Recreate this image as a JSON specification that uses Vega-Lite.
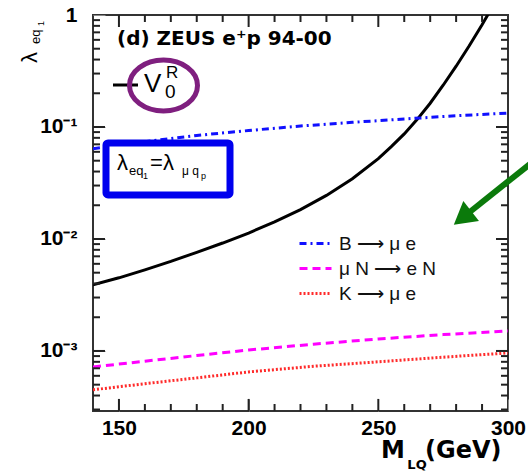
{
  "$schema": "https://vega.github.io/schema/vega-lite/v6.json",
  "width": 415,
  "height": 396,
  "autosize": "none",
  "padding": {"left": 93, "top": 15, "right": 20, "bottom": 62},
  "background": "white",
  "config": {
    "view": {"stroke": "#333", "strokeWidth": 2},
    "axis": {"grid": false, "domain": false, "title": null, "labelOverlap": false, "labelFlush": false, "labelBound": false}
  },
  "datasets": {
    "curves": [
      {"M": 140, "lam": 0.0039, "s": "V0R"},
      {"M": 150, "lam": 0.0045, "s": "V0R"},
      {"M": 160, "lam": 0.0053, "s": "V0R"},
      {"M": 170, "lam": 0.0063, "s": "V0R"},
      {"M": 180, "lam": 0.0076, "s": "V0R"},
      {"M": 190, "lam": 0.0092, "s": "V0R"},
      {"M": 200, "lam": 0.0113, "s": "V0R"},
      {"M": 210, "lam": 0.0142, "s": "V0R"},
      {"M": 220, "lam": 0.0183, "s": "V0R"},
      {"M": 230, "lam": 0.0245, "s": "V0R"},
      {"M": 240, "lam": 0.0345, "s": "V0R"},
      {"M": 250, "lam": 0.0522, "s": "V0R"},
      {"M": 255, "lam": 0.0667, "s": "V0R"},
      {"M": 260, "lam": 0.0867, "s": "V0R"},
      {"M": 265, "lam": 0.117, "s": "V0R"},
      {"M": 270, "lam": 0.163, "s": "V0R"},
      {"M": 275, "lam": 0.236, "s": "V0R"},
      {"M": 280, "lam": 0.349, "s": "V0R"},
      {"M": 285, "lam": 0.528, "s": "V0R"},
      {"M": 290, "lam": 0.818, "s": "V0R"},
      {"M": 293, "lam": 1.08, "s": "V0R"},
      {"M": 140, "lam": 0.064, "s": "B ⟶ μ e"},
      {"M": 160, "lam": 0.074, "s": "B ⟶ μ e"},
      {"M": 180, "lam": 0.084, "s": "B ⟶ μ e"},
      {"M": 200, "lam": 0.093, "s": "B ⟶ μ e"},
      {"M": 220, "lam": 0.102, "s": "B ⟶ μ e"},
      {"M": 240, "lam": 0.110, "s": "B ⟶ μ e"},
      {"M": 260, "lam": 0.118, "s": "B ⟶ μ e"},
      {"M": 280, "lam": 0.126, "s": "B ⟶ μ e"},
      {"M": 300, "lam": 0.133, "s": "B ⟶ μ e"},
      {"M": 140, "lam": 0.00072, "s": "μ N ⟶ e N"},
      {"M": 160, "lam": 0.00081, "s": "μ N ⟶ e N"},
      {"M": 180, "lam": 0.00091, "s": "μ N ⟶ e N"},
      {"M": 200, "lam": 0.00102, "s": "μ N ⟶ e N"},
      {"M": 225, "lam": 0.00115, "s": "μ N ⟶ e N"},
      {"M": 250, "lam": 0.00128, "s": "μ N ⟶ e N"},
      {"M": 275, "lam": 0.0014, "s": "μ N ⟶ e N"},
      {"M": 300, "lam": 0.00151, "s": "μ N ⟶ e N"},
      {"M": 140, "lam": 0.00045, "s": "K ⟶ μ e"},
      {"M": 160, "lam": 0.00051, "s": "K ⟶ μ e"},
      {"M": 180, "lam": 0.000575, "s": "K ⟶ μ e"},
      {"M": 200, "lam": 0.00065, "s": "K ⟶ μ e"},
      {"M": 225, "lam": 0.00073, "s": "K ⟶ μ e"},
      {"M": 250, "lam": 0.0008, "s": "K ⟶ μ e"},
      {"M": 275, "lam": 0.00088, "s": "K ⟶ μ e"},
      {"M": 300, "lam": 0.00096, "s": "K ⟶ μ e"}
    ],
    "xticks": [
      {"v": 150, "k": "major"}, {"v": 160, "k": "minor"}, {"v": 170, "k": "minor"}, {"v": 180, "k": "minor"},
      {"v": 190, "k": "minor"}, {"v": 200, "k": "major"}, {"v": 210, "k": "minor"}, {"v": 220, "k": "minor"},
      {"v": 230, "k": "minor"}, {"v": 240, "k": "minor"}, {"v": 250, "k": "major"}, {"v": 260, "k": "minor"},
      {"v": 270, "k": "minor"}, {"v": 280, "k": "minor"}, {"v": 290, "k": "minor"}
    ],
    "yticks": [
      {"v": 0.0003, "k": "minor"}, {"v": 0.0004, "k": "minor"}, {"v": 0.0005, "k": "minor"}, {"v": 0.0006, "k": "minor"},
      {"v": 0.0007, "k": "minor"}, {"v": 0.0008, "k": "minor"}, {"v": 0.0009, "k": "minor"}, {"v": 0.001, "k": "major"},
      {"v": 0.002, "k": "minor"}, {"v": 0.003, "k": "minor"}, {"v": 0.004, "k": "minor"}, {"v": 0.005, "k": "minor"},
      {"v": 0.006, "k": "minor"}, {"v": 0.007, "k": "minor"}, {"v": 0.008, "k": "minor"}, {"v": 0.009, "k": "minor"},
      {"v": 0.01, "k": "major"}, {"v": 0.02, "k": "minor"}, {"v": 0.03, "k": "minor"}, {"v": 0.04, "k": "minor"},
      {"v": 0.05, "k": "minor"}, {"v": 0.06, "k": "minor"}, {"v": 0.07, "k": "minor"}, {"v": 0.08, "k": "minor"},
      {"v": 0.09, "k": "minor"}, {"v": 0.1, "k": "major"}, {"v": 0.2, "k": "minor"}, {"v": 0.3, "k": "minor"},
      {"v": 0.4, "k": "minor"}, {"v": 0.5, "k": "minor"}, {"v": 0.6, "k": "minor"}, {"v": 0.7, "k": "minor"},
      {"v": 0.8, "k": "minor"}, {"v": 0.9, "k": "minor"}
    ]
  },
  "layer": [
    {
      "data": {"name": "curves"},
      "transform": [{"filter": "datum.s == 'V0R'"}],
      "mark": {"type": "line", "color": "black", "strokeWidth": 3, "clip": true},
      "encoding": {
        "x": {"field": "M", "type": "quantitative",
          "scale": {"domain": [140, 300], "nice": false, "zero": false},
          "axis": {"orient": "bottom", "values": [150, 200, 250, 300], "ticks": true, "tickSize": 12, "offset": -12,
            "labelFont": "Liberation Sans", "labelFontSize": 21, "labelFontWeight": "bold", "labelColor": "black",
            "labelPadding": 6}},
        "y": {"field": "lam", "type": "quantitative",
          "scale": {"type": "log", "domain": [0.000291, 1], "nice": false},
          "axis": {"orient": "left", "values": [0.001, 0.01, 0.1, 1], "ticks": true, "tickSize": 12, "offset": -12,
            "labelExpr": "datum.value > 0.5 ? '1' : datum.value > 0.05 ? '10⁻¹' : datum.value > 0.005 ? '10⁻²' : '10⁻³'",
            "labelFont": "Liberation Sans", "labelFontSize": 21, "labelFontWeight": "bold", "labelColor": "black",
            "labelPadding": 16}}
      }
    },
    {
      "data": {"name": "curves"},
      "transform": [{"filter": "datum.s != 'V0R'"}],
      "mark": {"type": "line", "strokeWidth": 3, "clip": true},
      "encoding": {
        "x": {"field": "M", "type": "quantitative", "axis": null},
        "y": {"field": "lam", "type": "quantitative", "axis": null},
        "color": {"field": "s", "type": "nominal",
          "scale": {"domain": ["B ⟶ μ e", "μ N ⟶ e N", "K ⟶ μ e"], "range": ["#1010ff", "#ff00ff", "#ff2a2a"]},
          "legend": {"orient": "none", "legendX": 213, "legendY": 219, "title": null, "symbolType": "M -2 0 L 2 0",
            "symbolSize": 256, "symbolStrokeWidth": 3, "labelFont": "Liberation Sans", "labelFontSize": 19,
            "labelColor": "#111", "labelOffset": 14, "rowPadding": 5, "padding": 0, "labelLimit": 0}},
        "strokeDash": {"field": "s", "type": "nominal",
          "scale": {"domain": ["B ⟶ μ e", "μ N ⟶ e N", "K ⟶ μ e"], "range": [[7, 4, 2, 4], [8, 5], [2, 2]]},
          "legend": {"orient": "none", "legendX": 213, "legendY": 219, "title": null, "symbolType": "M -2 0 L 2 0",
            "symbolSize": 256, "symbolStrokeWidth": 3, "labelFont": "Liberation Sans", "labelFontSize": 19,
            "labelColor": "#111", "labelOffset": 14, "rowPadding": 5, "padding": 0, "labelLimit": 0}}
      }
    },
    {
      "data": {"name": "xticks"},
      "transform": [{"filter": "datum.k == 'major'"}],
      "mark": {"type": "rule", "color": "#222", "strokeWidth": 2},
      "encoding": {
        "x": {"field": "v", "type": "quantitative", "axis": null},
        "y": {"datum": 0.000291, "type": "quantitative", "axis": null},
        "y2": {"datum": 0.000373}
      }
    },
    {
      "data": {"name": "xticks"},
      "transform": [{"filter": "datum.k == 'minor'"}],
      "mark": {"type": "rule", "color": "#222", "strokeWidth": 2},
      "encoding": {
        "x": {"field": "v", "type": "quantitative", "axis": null},
        "y": {"datum": 0.000291, "type": "quantitative", "axis": null},
        "y2": {"datum": 0.000336}
      }
    },
    {
      "data": {"name": "xticks"},
      "transform": [{"filter": "datum.k == 'major'"}],
      "mark": {"type": "rule", "color": "#222", "strokeWidth": 2},
      "encoding": {
        "x": {"field": "v", "type": "quantitative", "axis": null},
        "y": {"datum": 1, "type": "quantitative", "axis": null},
        "y2": {"datum": 0.781}
      }
    },
    {
      "data": {"name": "xticks"},
      "transform": [{"filter": "datum.k == 'minor'"}],
      "mark": {"type": "rule", "color": "#222", "strokeWidth": 2},
      "encoding": {
        "x": {"field": "v", "type": "quantitative", "axis": null},
        "y": {"datum": 1, "type": "quantitative", "axis": null},
        "y2": {"datum": 0.866}
      }
    },
    {
      "data": {"name": "yticks"},
      "transform": [{"filter": "datum.k == 'major'"}],
      "mark": {"type": "rule", "color": "#222", "strokeWidth": 2},
      "encoding": {
        "y": {"field": "v", "type": "quantitative", "axis": null},
        "x": {"datum": 140, "type": "quantitative", "axis": null},
        "x2": {"datum": 144.63}
      }
    },
    {
      "data": {"name": "yticks"},
      "transform": [{"filter": "datum.k == 'minor'"}],
      "mark": {"type": "rule", "color": "#222", "strokeWidth": 2},
      "encoding": {
        "y": {"field": "v", "type": "quantitative", "axis": null},
        "x": {"datum": 140, "type": "quantitative", "axis": null},
        "x2": {"datum": 142.7}
      }
    },
    {
      "data": {"name": "yticks"},
      "transform": [{"filter": "datum.k == 'major'"}],
      "mark": {"type": "rule", "color": "#222", "strokeWidth": 2},
      "encoding": {
        "y": {"field": "v", "type": "quantitative", "axis": null},
        "x": {"datum": 300, "type": "quantitative", "axis": null},
        "x2": {"datum": 295.37}
      }
    },
    {
      "data": {"name": "yticks"},
      "transform": [{"filter": "datum.k == 'minor'"}],
      "mark": {"type": "rule", "color": "#222", "strokeWidth": 2},
      "encoding": {
        "y": {"field": "v", "type": "quantitative", "axis": null},
        "x": {"datum": 300, "type": "quantitative", "axis": null},
        "x2": {"datum": 297.3}
      }
    },
    {
      "data": {"values": [{}]},
      "mark": {"type": "rect", "fill": "white", "stroke": "#0000ee", "strokeWidth": 7, "cornerRadius": 2},
      "encoding": {
        "x": {"datum": 145.01, "type": "quantitative", "axis": null},
        "x2": {"datum": 192.82},
        "y": {"datum": 0.07197, "type": "quantitative", "axis": null},
        "y2": {"datum": 0.02471}
      }
    },
    {
      "data": {"values": [{}]},
      "mark": {"type": "text", "font": "Liberation Sans", "fontSize": 22, "align": "left", "baseline": "alphabetic", "color": "black"},
      "encoding": {
        "x": {"datum": 149.25, "type": "quantitative", "axis": null},
        "y": {"datum": 0.04131, "type": "quantitative", "axis": null},
        "text": {"value": "λ"}
      }
    },
    {
      "data": {"values": [{}]},
      "mark": {"type": "text", "font": "Liberation Sans", "fontSize": 13, "align": "left", "baseline": "alphabetic", "color": "black"},
      "encoding": {
        "x": {"datum": 153.88, "type": "quantitative", "axis": null},
        "y": {"datum": 0.03728, "type": "quantitative", "axis": null},
        "text": {"value": "eq"}
      }
    },
    {
      "data": {"values": [{}]},
      "mark": {"type": "text", "font": "Liberation Sans", "fontSize": 9, "align": "left", "baseline": "alphabetic", "color": "black"},
      "encoding": {
        "x": {"datum": 159.28, "type": "quantitative", "axis": null},
        "y": {"datum": 0.03433, "type": "quantitative", "axis": null},
        "text": {"value": "1"}
      }
    },
    {
      "data": {"values": [{}]},
      "mark": {"type": "text", "font": "Liberation Sans", "fontSize": 22, "align": "left", "baseline": "alphabetic", "color": "black"},
      "encoding": {
        "x": {"datum": 162.0, "type": "quantitative", "axis": null},
        "y": {"datum": 0.04131, "type": "quantitative", "axis": null},
        "text": {"value": "=λ"}
      }
    },
    {
      "data": {"values": [{}]},
      "mark": {"type": "text", "font": "Liberation Sans", "fontSize": 12, "align": "left", "baseline": "alphabetic", "color": "black"},
      "encoding": {
        "x": {"datum": 174.3, "type": "quantitative", "axis": null},
        "y": {"datum": 0.03728, "type": "quantitative", "axis": null},
        "text": {"value": "μ q"}
      }
    },
    {
      "data": {"values": [{}]},
      "mark": {"type": "text", "font": "Liberation Sans", "fontSize": 9, "align": "left", "baseline": "alphabetic", "color": "black"},
      "encoding": {
        "x": {"datum": 181.64, "type": "quantitative", "axis": null},
        "y": {"datum": 0.03433, "type": "quantitative", "axis": null},
        "text": {"value": "p"}
      }
    },
    {
      "data": {"values": [{}]},
      "mark": {"type": "text", "font": "DejaVu Sans", "fontWeight": "bold", "fontSize": 20, "align": "left", "baseline": "alphabetic", "color": "black"},
      "encoding": {
        "x": {"datum": 149.25, "type": "quantitative", "axis": null},
        "y": {"datum": 0.5397, "type": "quantitative", "axis": null},
        "text": {"value": "(d) ZEUS e⁺p 94-00"}
      }
    },
    {
      "data": {"values": [{}]},
      "mark": {"type": "rule", "color": "black", "strokeWidth": 3},
      "encoding": {
        "x": {"datum": 147.71, "type": "quantitative", "axis": null},
        "x2": {"datum": 157.35},
        "y": {"datum": 0.2371, "type": "quantitative", "axis": null}
      }
    },
    {
      "data": {"values": [{}]},
      "mark": {"type": "text", "font": "Liberation Sans", "fontSize": 26, "align": "left", "baseline": "alphabetic", "color": "black"},
      "encoding": {
        "x": {"datum": 159.66, "type": "quantitative", "axis": null},
        "y": {"datum": 0.2054, "type": "quantitative", "axis": null},
        "text": {"value": "V"}
      }
    },
    {
      "data": {"values": [{}]},
      "mark": {"type": "text", "font": "Liberation Sans", "fontSize": 17, "align": "left", "baseline": "alphabetic", "color": "black"},
      "encoding": {
        "x": {"datum": 168.14, "type": "quantitative", "axis": null},
        "y": {"datum": 0.2738, "type": "quantitative", "axis": null},
        "text": {"value": "R"}
      }
    },
    {
      "data": {"values": [{}]},
      "mark": {"type": "text", "font": "Liberation Sans", "fontSize": 19, "align": "left", "baseline": "alphabetic", "color": "black"},
      "encoding": {
        "x": {"datum": 167.76, "type": "quantitative", "axis": null},
        "y": {"datum": 0.1815, "type": "quantitative", "axis": null},
        "text": {"value": "0"}
      }
    },
    {
      "data": {"values": [{}]},
      "mark": {"type": "point", "shape": "M -1 0 A 1 0.75 0 1 0 1 0 A 1 0.75 0 1 0 -1 0 Z", "size": 4624, "filled": false, "stroke": "#7f1f7f", "strokeWidth": 5, "opacity": 1},
      "encoding": {
        "x": {"datum": 167.18, "type": "quantitative", "axis": null},
        "y": {"datum": 0.2347, "type": "quantitative", "axis": null}
      }
    },
    {
      "data": {"values": [{}]},
      "mark": {"type": "text", "font": "Liberation Sans", "fontSize": 22, "align": "left", "baseline": "alphabetic", "angle": 270, "color": "black"},
      "encoding": {
        "x": {"datum": 118.4, "type": "quantitative", "axis": null},
        "y": {"datum": 0.3728, "type": "quantitative", "axis": null},
        "text": {"value": "λ"}
      }
    },
    {
      "data": {"values": [{}]},
      "mark": {"type": "text", "font": "Liberation Sans", "fontSize": 13, "align": "left", "baseline": "alphabetic", "angle": 270, "color": "black"},
      "encoding": {
        "x": {"datum": 119.6, "type": "quantitative", "axis": null},
        "y": {"datum": 0.5510, "type": "quantitative", "axis": null},
        "text": {"value": "eq"}
      }
    },
    {
      "data": {"values": [{}]},
      "mark": {"type": "text", "font": "Liberation Sans", "fontSize": 9, "align": "left", "baseline": "alphabetic", "angle": 270, "color": "black"},
      "encoding": {
        "x": {"datum": 121.1, "type": "quantitative", "axis": null},
        "y": {"datum": 0.7977, "type": "quantitative", "axis": null},
        "text": {"value": "1"}
      }
    },
    {
      "data": {"values": [{}]},
      "mark": {"type": "text", "font": "DejaVu Sans", "fontWeight": "bold", "fontSize": 24, "align": "left", "baseline": "alphabetic", "color": "black"},
      "encoding": {
        "x": {"datum": 251.0, "type": "quantitative", "axis": null},
        "y": {"datum": 0.0001108, "type": "quantitative", "axis": null},
        "text": {"value": "M"}
      }
    },
    {
      "data": {"values": [{}]},
      "mark": {"type": "text", "font": "DejaVu Sans", "fontWeight": "bold", "fontSize": 13, "align": "left", "baseline": "alphabetic", "color": "black"},
      "encoding": {
        "x": {"datum": 261.2, "type": "quantitative", "axis": null},
        "y": {"datum": 0.0000884, "type": "quantitative", "axis": null},
        "text": {"value": "LQ"}
      }
    },
    {
      "data": {"values": [{}]},
      "mark": {"type": "text", "font": "DejaVu Sans", "fontWeight": "bold", "fontSize": 24, "align": "left", "baseline": "alphabetic", "color": "black"},
      "encoding": {
        "x": {"datum": 268.0, "type": "quantitative", "axis": null},
        "y": {"datum": 0.0001108, "type": "quantitative", "axis": null},
        "text": {"value": "(GeV)"}
      }
    },
    {
      "data": {"values": [{}]},
      "mark": {"type": "rule", "color": "#0b7a0b", "strokeWidth": 6},
      "encoding": {
        "x": {"datum": 308.47, "type": "quantitative", "axis": null},
        "x2": {"datum": 283.8},
        "y": {"datum": 0.04673, "type": "quantitative", "axis": null},
        "y2": {"datum": 0.01638}
      }
    },
    {
      "data": {"values": [{}]},
      "mark": {"type": "point", "shape": "triangle-up", "size": 645, "angle": 232, "filled": true, "color": "#0b7a0b", "opacity": 1},
      "encoding": {
        "x": {"datum": 282.45, "type": "quantitative", "axis": null},
        "y": {"datum": 0.01543, "type": "quantitative", "axis": null}
      }
    }
  ],
  "resolve": {"axis": {"x": "independent", "y": "independent"}}
}
